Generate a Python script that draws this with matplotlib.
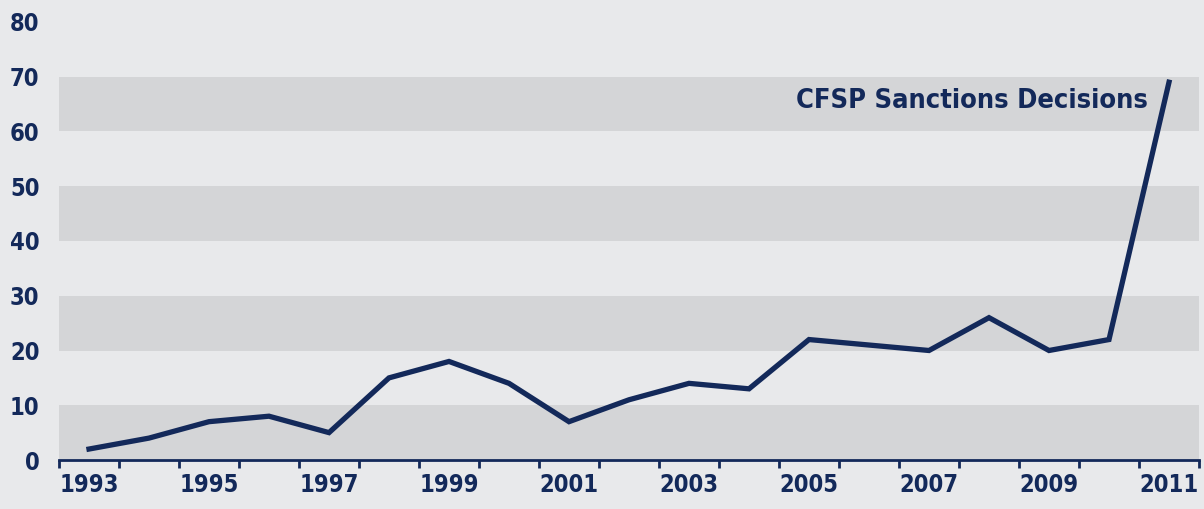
import numpy as np
import matplotlib.pyplot as plt

years = list(range(1993, 2012))
decisions = [2, 4, 7, 8, 5, 15, 18, 14, 7, 11, 14, 13, 22, 21, 20, 26, 20, 22, 69]
label_years = [1993, 1995, 1997, 1999, 2001, 2003, 2005, 2007, 2009, 2011]
y_ticks = [0, 10, 20, 30, 40, 50, 60, 70, 80]

navy = '#13295a'
bg = '#e8e9eb'
band = '#d4d5d7'

fig = plt.figure(figsize=(12.04, 5.09), dpi=100, facecolor=bg)
ax = fig.add_axes([59 / 1204, 49 / 509, 1140 / 1204, 438 / 509])
ax.set_facecolor(bg)

x = np.arange(len(years))
for lo in (0, 20, 40, 60):
    ax.axhspan(lo, lo + 10, color=band, zorder=0, lw=0)

ax.plot(x, decisions, color=navy, lw=3.8, solid_joinstyle='miter', zorder=3)

ax.set_xlim(-0.5, len(years) - 0.5)
ax.set_ylim(0, 80)

# tick marks between categories, labels centred on odd years
ax.set_xticks(np.arange(-0.5, len(years), 1.0))
ax.set_xticklabels([])
ax.set_xticks([years.index(y) for y in label_years], minor=True)
ax.set_xticklabels([str(y) for y in label_years], minor=True)
ax.tick_params(axis='x', which='major', length=6, width=2, color=navy, direction='out')
ax.tick_params(axis='x', which='minor', length=0, pad=9)

ax.set_yticks(y_ticks)
ax.tick_params(axis='y', length=0, pad=14)

for lab in ax.get_xticklabels(minor=True) + ax.get_yticklabels():
    lab.set_family('DejaVu Sans')
    lab.set_stretch('condensed')
    lab.set_weight('bold')
    lab.set_color(navy)
    lab.set_fontsize(17)

for s in ('top', 'right', 'left'):
    ax.spines[s].set_visible(False)
ax.spines['bottom'].set_color(navy)
ax.spines['bottom'].set_linewidth(2)

ax.text(17.65, 65.5, 'CFSP Sanctions Decisions', ha='right', va='center',
        family='DejaVu Sans', stretch='condensed', weight='semibold',
        fontsize=19.5, color=navy)

fig.savefig('out.png', dpi=100, facecolor=bg)
